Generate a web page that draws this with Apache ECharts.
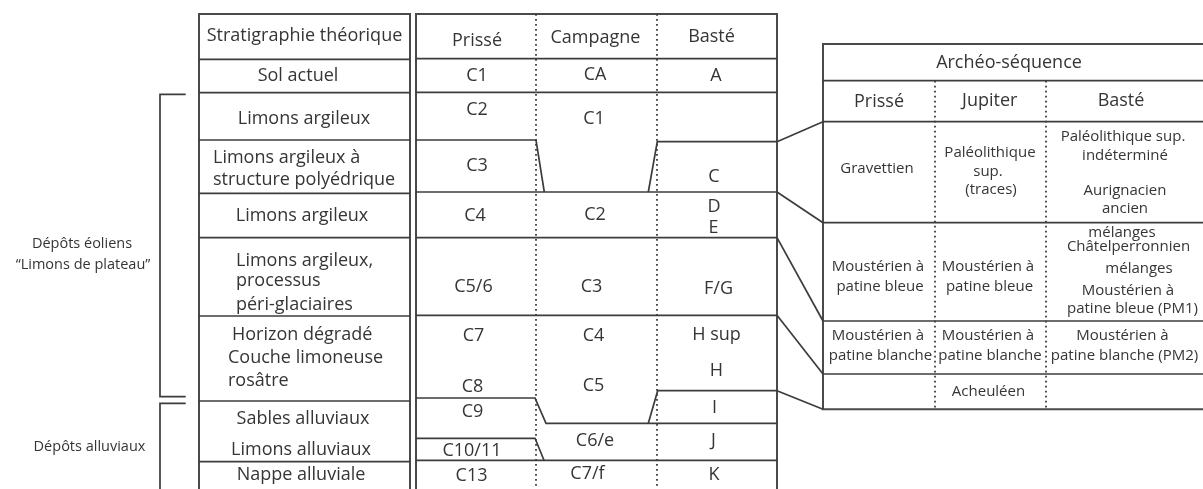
<!DOCTYPE html>
<html><head><meta charset="utf-8">
<script src="https://cdn.jsdelivr.net/npm/echarts@6/dist/echarts.min.js"></script>
<style>html,body{margin:0;padding:0;background:#fff}#c{width:1203px;height:489px}</style>
</head><body><div id="c"></div>
<script>
// ===== DATA (diagram units: x across, depth downward) =====
// Left table: theoretical stratigraphy
const leftCols = [199, 410];
const leftHorizons = [14, 59.3, 92.7, 140, 193.3, 237.7, 316, 401, 461.7];
const leftTextsCentered = [
  ['Stratigraphie théorique', 304.5, 41.7],
  ['Sol actuel', 298, 81.7],
  ['Limons argileux', 304, 124],
  ['Limons argileux', 302, 221.7],
  ['Sables alluviaux', 303, 424.3],
  ['Limons alluviaux', 301, 455],
  ['Nappe alluviale', 301, 480]
];
const leftTextsLeft = [
  ['Limons argileux à', 213, 163.3],
  ['structure polyédrique', 213, 185],
  ['Limons argileux,', 236, 266],
  ['processus', 236, 286.7],
  ['péri-glaciaires', 236, 310],
  ['Horizon dégradé', 232, 340.7],
  ['Couche limoneuse', 228, 363.3],
  ['rosâtre', 228, 386.7]
];
// Brackets
const bracketPaths = [
  [[185.7, 94.3], [160, 94.3], [160, 396.7], [185.7, 396.7]],
  [[185.7, 403.3], [160, 403.3], [160, 495]]
];
const bracketTexts = [
  ['Dépôts éoliens', 82, 248],
  ['“Limons de plateau”', 83, 269.3],
  ['Dépôts alluviaux', 89.5, 451.7]
];
// Middle table: sites Prissé / Campagne / Basté
const midCols = [416, 536, 657, 777];
const midHorizons = [14, 58.7, 92.3, 192, 237.7, 315.3, 460.3];
const midPinchPaths = [
  [[416, 140], [536, 140], [544.3, 192]],
  [[648.3, 192], [657.3, 141.7], [777, 141.7]],
  [[416, 398], [535, 398], [546, 423.3], [777, 423.3]],
  [[648.3, 423.3], [657.7, 390.7], [777, 390.7]],
  [[416, 438.3], [535, 438.3], [544, 460.3]]
];
const midTexts = [
  ['Prissé', 477, 46], ['Campagne', 595.5, 43.3], ['Basté', 711.5, 42.7],
  ['C1', 477, 81.7], ['CA', 595, 80], ['A', 716, 81.7],
  ['C2', 477, 115], ['C1', 594, 124],
  ['C3', 477, 171.7], ['C', 714, 182.7],
  ['C4', 475, 221.7], ['C2', 595, 220], ['D', 714, 212.7], ['E', 713.5, 233.3],
  ['C5/6', 473.5, 292.7], ['C3', 591.5, 292.7], ['F/G', 718.5, 294.3],
  ['C7', 473.5, 341.7], ['C4', 593.5, 341.7], ['H sup', 716.5, 340.7],
  ['H', 716.5, 376.7],
  ['C8', 472.5, 392.7], ['C5', 593.5, 391.7],
  ['C9', 472.5, 417.7], ['I', 714.5, 413.3],
  ['C6/e', 595, 446.7], ['J', 713.5, 446.7],
  ['C10/11', 472, 456.7],
  ['C13', 471.5, 481.7], ['C7/f', 587.5, 479.3], ['K', 714, 480.7]
];
// Right table: archaeo-sequence
const rightCols = [823, 935, 1046, 1206];
const rightHorizons = [44, 80.7, 121.7, 222.7, 321, 374, 409.3];
const rightHeaderTexts = [
  ['Archéo-séquence', 1009, 68.5],
  ['Prissé', 879, 107.3], ['Jupiter', 989.7, 106.5], ['Basté', 1121, 106.5]
];
const rightTexts = [
  ['Gravettien', 877, 173.3],
  ['Paléolithique', 990, 157.3], ['sup.', 988, 176.7], ['(traces)', 991, 194],
  ['Paléolithique sup.', 1123, 141.7], ['indéterminé', 1125, 160],
  ['Aurignacien', 1125, 195], ['ancien', 1125, 213.3],
  ['mélanges', 1122, 237.3], ['Châtelperronnien', 1128.5, 251.7],
  ['mélanges', 1139, 273.3], ['Moustérien à', 1128, 295], ['patine bleue (PM1)', 1132.5, 313.3],
  ['Moustérien à', 878, 271.7], ['patine bleue', 880, 291.7],
  ['Moustérien à', 988, 271.7], ['patine bleue', 989.5, 291.7],
  ['Moustérien à', 878, 340], ['patine blanche', 880.5, 360],
  ['Moustérien à', 988, 340], ['patine blanche', 990, 360],
  ['Moustérien à', 1122.5, 340], ['patine blanche (PM2)', 1124.5, 360],
  ['Acheuléen', 988.5, 396.7]
];
// Correlation connectors (middle table -> right table)
const connectorPaths = [
  [[777, 141.7], [823, 121.7]],
  [[777, 192], [823, 222.7]],
  [[777, 237.7], [823, 321]],
  [[777, 315.3], [823, 374]],
  [[777, 390.7], [823, 409.3]]
];

// ===== BUILD =====
const BOTTOM = 495;
const solidPaths = [];
const framePaths = [];
const dottedPaths = [];
// left table
framePaths.push([[leftCols[0], BOTTOM], [leftCols[0], leftHorizons[0]], [leftCols[1], leftHorizons[0]], [leftCols[1], BOTTOM]]);
leftHorizons.slice(1).forEach(y => solidPaths.push([[leftCols[0], y], [leftCols[1], y]]));
// middle table
framePaths.push([[midCols[0], BOTTOM], [midCols[0], midHorizons[0]], [midCols[3], midHorizons[0]], [midCols[3], BOTTOM]]);
midHorizons.slice(1).forEach(y => solidPaths.push([[midCols[0], y], [midCols[3], y]]));
midPinchPaths.forEach(p => solidPaths.push(p));
dottedPaths.push([[midCols[1], midHorizons[0]], [midCols[1], BOTTOM]]);
dottedPaths.push([[midCols[2], midHorizons[0]], [midCols[2], BOTTOM]]);
// right table
const rTop = rightHorizons[0], rBot = rightHorizons[rightHorizons.length - 1];
framePaths.push([[rightCols[3], rTop], [rightCols[0], rTop], [rightCols[0], rBot], [rightCols[3], rBot]]);
rightHorizons.slice(1, -1).forEach(y => solidPaths.push([[rightCols[0], y], [rightCols[3], y]]));
dottedPaths.push([[rightCols[1], rightHorizons[1]], [rightCols[1], rBot]]);
dottedPaths.push([[rightCols[2], rightHorizons[1]], [rightCols[2], rBot]]);
connectorPaths.forEach(p => solidPaths.push(p));
bracketPaths.forEach(p => solidPaths.push(p));

const FONT = '"Open Sans", "Noto Sans", sans-serif';
const TEXT_COLOR = '#353535';

function lineSeries(paths, style) {
  return {
    type: 'custom', coordinateSystem: 'cartesian2d', clip: false, silent: true,
    data: paths.map((p, i) => [i, 0]),
    renderItem: (params, api) => {
      const p = paths[params.dataIndex];
      return {
        type: 'polyline',
        shape: { points: p.map(pt => api.coord(pt)) },
        style: Object.assign({ fill: null, lineJoin: 'miter' }, style)
      };
    }
  };
}
function textSeries(items, align, size) {
  return {
    type: 'custom', coordinateSystem: 'cartesian2d', clip: false, silent: true,
    data: items.map((t, i) => [i, 0]),
    renderItem: (params, api) => {
      const t = items[params.dataIndex];
      const c = api.coord([t[1], t[2]]);
      return {
        type: 'text', x: c[0], y: c[1] - size * 0.3,
        style: { text: t[0], fill: TEXT_COLOR, fontSize: size, fontFamily: FONT, fontWeight: 'normal', align: align, verticalAlign: 'middle' }
      };
    }
  };
}

const chart = echarts.init(document.getElementById('c'), null, { renderer: 'canvas' });
chart.setOption({
  animation: false,
  backgroundColor: '#ffffff',
  grid: { left: 0, right: 0, top: 0, bottom: 0 },
  xAxis: { type: 'value', min: 0, max: 1203, show: false },
  yAxis: { type: 'value', min: 0, max: 489, inverse: true, show: false },
  series: [
    lineSeries(framePaths, { stroke: '#4a4a4a', lineWidth: 2 }),
    lineSeries(solidPaths, { stroke: '#3c3c3c', lineWidth: 1.7 }),
    lineSeries(dottedPaths, { stroke: '#3c3c3c', lineWidth: 1.8, lineDash: [1.8, 3.2] }),
    textSeries(leftTextsCentered, 'center', 18),
    textSeries(leftTextsLeft, 'left', 18),
    textSeries(midTexts, 'center', 18),
    textSeries(rightHeaderTexts, 'center', 18),
    textSeries(bracketTexts, 'center', 14.5),
    textSeries(rightTexts, 'center', 15)
  ]
});
</script>
</body></html>
